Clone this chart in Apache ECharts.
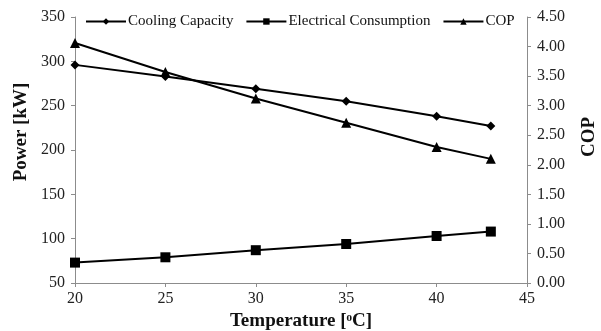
<!DOCTYPE html>
<html>
<head>
<meta charset="utf-8">
<script src="https://cdn.jsdelivr.net/npm/echarts@6/dist/echarts.min.js"></script>
<style>
  html, body { margin: 0; padding: 0; background: #fff; }
  #chart { width: 601px; height: 331px; }
</style>
</head>
<body>
<div id="chart"></div>
<script>
// temperature [°C]
const temps = [20, 25, 30, 35, 40, 43];
// power [kW]
const coolingCapacity = [296, 283, 269, 255, 238, 227];
const electricalConsumption = [73, 79, 87, 94, 103, 108];
// COP on right axis
const cop = [4.06, 3.57, 3.12, 2.71, 2.30, 2.10];

const seriesNames = ["Cooling Capacity", "Electrical Consumption", "COP"];

const pair = (xs, ys) => xs.map((x, i) => [x, ys[i]]);

const chart = echarts.init(document.getElementById("chart"));
const font = "Liberation Serif";
const axisGray = "#8c8c8c";

const axisCommon = {
  axisLine: { show: true, lineStyle: { color: axisGray, width: 1 } },
  axisTick: { show: true, length: 4, lineStyle: { color: axisGray } },
  splitLine: { show: false },
  axisLabel: { color: "#222", fontFamily: font, fontSize: 16 },
  nameTextStyle: { color: "#111", fontFamily: font, fontSize: 19, fontWeight: "bold" },
};

const option = {
  animation: false,
  backgroundColor: "#fff",
  grid: { left: 75, right: 74, top: 17, bottom: 48, outerBoundsMode: "none" },
  legend: {
    left: 80,
    top: 9,
    itemWidth: 40,
    itemHeight: 8,
    itemGap: 12,
    textStyle: { color: "#111", fontFamily: font, fontSize: 15, padding: [0, 0, 0, -3] },
    data: seriesNames,
  },
  xAxis: {
    type: "value",
    min: 20,
    max: 45,
    interval: 5,
    name: "Temperature [\u1d52C]",
    nameLocation: "middle",
    nameGap: 26,
    ...axisCommon,
    axisLabel: { ...axisCommon.axisLabel, margin: 8 },
  },
  yAxis: [
    {
      type: "value",
      min: 50,
      max: 350,
      interval: 50,
      position: "left",
      name: "Power [kW]",
      nameLocation: "middle",
      nameRotate: 90,
      nameGap: 43,
      ...axisCommon,
      // shift the title up a bit, like the original
      nameTextStyle: { ...axisCommon.nameTextStyle, padding: [0, 0, 0, 36] },
      axisLabel: { ...axisCommon.axisLabel, margin: 10 },
    },
    {
      type: "value",
      min: 0,
      max: 4.5,
      interval: 0.5,
      position: "right",
      name: "COP",
      nameLocation: "middle",
      nameRotate: 90,
      nameGap: 53,
      ...axisCommon,
      nameTextStyle: { ...axisCommon.nameTextStyle, padding: [0, 0, 0, 26] },
      axisLabel: {
        ...axisCommon.axisLabel,
        margin: 10,
        formatter: (v) => v.toFixed(2),
      },
    },
  ],
  series: [
    {
      name: seriesNames[0],
      type: "line",
      yAxisIndex: 0,
      symbol: "diamond",
      symbolSize: 9,
      lineStyle: { color: "#000", width: 2 },
      itemStyle: { color: "#000" },
      data: pair(temps, coolingCapacity),
    },
    {
      name: seriesNames[1],
      type: "line",
      yAxisIndex: 0,
      symbol: "rect",
      symbolSize: 10,
      lineStyle: { color: "#000", width: 2 },
      itemStyle: { color: "#000" },
      data: pair(temps, electricalConsumption),
    },
    {
      name: seriesNames[2],
      type: "line",
      yAxisIndex: 1,
      symbol: "triangle",
      symbolSize: 10,
      lineStyle: { color: "#000", width: 2 },
      itemStyle: { color: "#000" },
      data: pair(temps, cop),
    },
  ],
};

chart.setOption(option);
</script>
</body>
</html>
